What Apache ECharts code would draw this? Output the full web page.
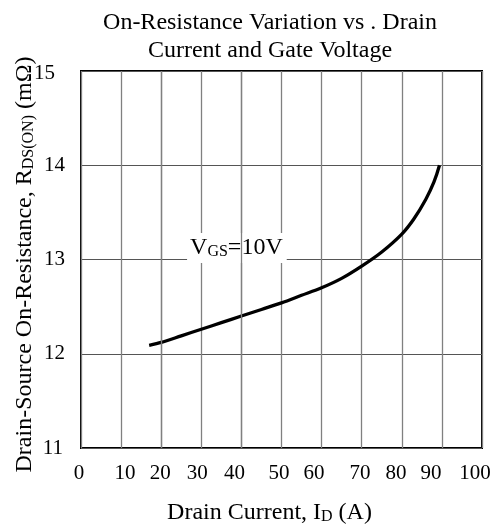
<!DOCTYPE html>
<html><head><meta charset="utf-8">
<script src="https://cdn.jsdelivr.net/npm/echarts@6/dist/echarts.min.js"></script>
<style>html,body{margin:0;padding:0;background:#fff}#c{width:497px;height:526px}</style>
</head><body><div id="c"></div>
<script>
// ---- data ----
const xTicks = [0, 10, 20, 30, 40, 50, 60, 70, 80, 90, 100];
const yTicks = [11, 12, 13, 14, 15];
const drainCurrent = [17, 20, 25, 30, 35, 40, 45, 50, 55, 60, 65, 70, 75, 80, 83, 86, 88, 89.4];
const rdsOn = [12.09, 12.12, 12.19, 12.26, 12.33, 12.40, 12.47, 12.54, 12.62, 12.70, 12.80, 12.93, 13.08, 13.27, 13.43, 13.64, 13.82, 14.0];
const titleLines = ['On-Resistance Variation vs . Drain', 'Current and Gate Voltage'];
const annotationText = ['V', 'GS', '=10V'];
const annotationAt = [27.2, 13.1];

// ---- styling ----
const FONT = "'Liberation Serif', 'Times New Roman', serif";
const TICK_SIZE = 21;
const xLabelShift = [-2, 4, -1, -4, -7, -2.5, -7.5, -1.7, -5.8, -11, -7];
const yLabelShift = {15: [10, 4], 11: [2, 0]};
const GRID_COLOR = '#808080';

const xRich = {};
xTicks.forEach((t, i) => {
  const d = xLabelShift[i];
  xRich['x' + i] = {fontFamily: FONT, fontSize: TICK_SIZE, color: '#000',
    padding: d >= 0 ? [0, 0, 0, 2 * d] : [0, -2 * d, 0, 0]};
});
const yRich = {};
yTicks.forEach((t, i) => {
  const s = yLabelShift[t] || [0, 0];
  yRich['y' + i] = {fontFamily: FONT, fontSize: TICK_SIZE, color: '#000', padding: [s[1], s[0], 0, 0]};
});

const chart = echarts.init(document.getElementById('c'));
chart.setOption({
  animation: false,
  backgroundColor: '#fff',
  title: {
    text: titleLines.join('\n'),
    left: 265, top: 4, textAlign: 'center',
    textStyle: {fontFamily: FONT, fontSize: 24, fontWeight: 'normal', color: '#000', lineHeight: 28}
  },
  grid: {left: 81, right: 15, top: 71, bottom: 78, outerBoundsMode: 'none', containLabel: false,
    show: true, borderColor: '#000', borderWidth: 2, backgroundColor: 'transparent'},
  xAxis: {
    type: 'value', min: 0, max: 100, interval: 10,
    axisLine: {show: false}, axisTick: {show: false},
    splitLine: {show: true, lineStyle: {color: GRID_COLOR, width: 1.3}},
    axisLabel: {margin: 15, formatter: v => '{x' + xTicks.indexOf(v) + '|' + v + '}', rich: xRich},
    name: 'Drain Current, I{sub|D} (A)',
    nameLocation: 'middle', nameGap: 52, nameMoveOverlap: false,
    nameTextStyle: {fontFamily: FONT, fontSize: 24, color: '#000', padding: [0, 24, 0, 0],
      rich: {sub: {fontFamily: FONT, fontSize: 16, color: '#000', padding: [9, 0, 0, 0]}}}
  },
  yAxis: {
    type: 'value', min: 11, max: 15, interval: 1,
    axisLine: {show: false}, axisTick: {show: false},
    splitLine: {show: true, lineStyle: {color: '#555', width: 1.2}},
    axisLabel: {margin: 16, formatter: v => '{y' + yTicks.indexOf(v) + '|' + v + '}', rich: yRich},
    name: 'Drain-Source On-Resistance, R{sub|DS(ON)} (mΩ)',
    nameLocation: 'middle', nameGap: 44, nameMoveOverlap: false,
    nameTextStyle: {fontFamily: FONT, fontSize: 24, color: '#000', padding: [0, 10, 0, 0],
      rich: {sub: {fontFamily: FONT, fontSize: 16, color: '#000', padding: [9, 0, 0, 0]}}}
  },
  series: [{
    type: 'line', z: 2,
    data: drainCurrent.map((x, i) => [x, rdsOn[i]]),
    smooth: 0.3, showSymbol: false,
    lineStyle: {color: '#000', width: 3.3},
    markLine: {
      silent: true, symbol: 'none', label: {show: false},
      lineStyle: {color: GRID_COLOR, width: 1.3, type: 'solid'},
      data: [{xAxis: 20}, {xAxis: 40}]
    }
  }]
});

const p = chart.convertToPixel({gridIndex: 0}, annotationAt);
chart.setOption({
  graphic: [{
    type: 'text', z: 1, left: p[0] - 3, top: p[1] - 17,
    style: {
      text: '{a|' + annotationText[0] + '}{b|' + annotationText[1] + '}{a|' + annotationText[2] + '}',
      backgroundColor: '#fff', padding: [3, 4, 3, 3],
      rich: {
        a: {fontFamily: FONT, fontSize: 24, fill: '#000'},
        b: {fontFamily: FONT, fontSize: 16, fill: '#000', padding: [8, 0, 0, 0]}
      }
    }
  }]
});
</script></body></html>
